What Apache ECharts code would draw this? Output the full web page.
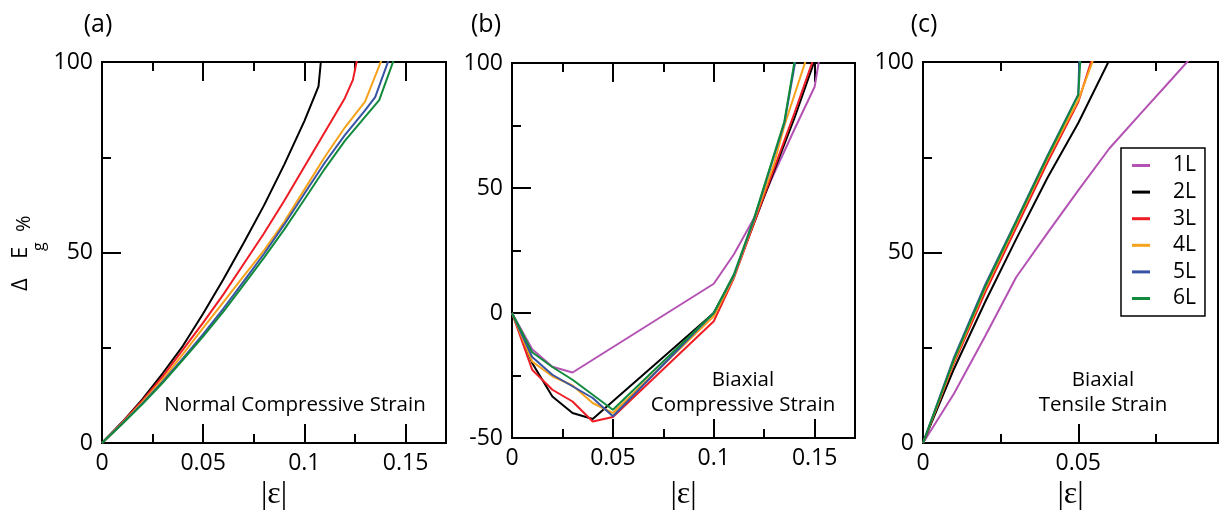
<!DOCTYPE html>
<html lang="en">
<head>
<meta charset="UTF-8">
<title>band gap vs strain</title>
<script src="https://cdn.jsdelivr.net/npm/echarts@6/dist/echarts.min.js"></script>
<style>html,body{margin:0;padding:0;background:#fff;}</style>
</head>
<body>
<div id="chart" style="width:1224px;height:514px"></div>
<script>
var FONT = 'Open Sans';
var layers = ['1L', '2L', '3L', '4L', '5L', '6L'];
var colors = ['#b452b4', '#000000', '#ee1c24', '#f7a21b', '#3953a4', '#118a3c'];

// (a) normal compressive strain, [|eps|, dEg %]
var a2L = [[0,0],[0.01,5.5],[0.02,11.5],[0.03,18.3],[0.04,25.5],[0.05,34],[0.06,43],[0.07,52.5],[0.08,62.3],[0.09,73],[0.1,84.5],[0.107,93.6],[0.1085,102]];
var a3L = [[0,0],[0.01,5.4],[0.02,11.2],[0.03,17.5],[0.04,24.5],[0.05,31.6],[0.06,39],[0.07,47],[0.08,55],[0.09,63.5],[0.1,72.5],[0.11,81.5],[0.12,90.5],[0.124,95.3],[0.1262,101]];
var a4L = [[0,0],[0.01,5.2],[0.02,10.7],[0.03,16.7],[0.04,23.3],[0.05,30.2],[0.06,37],[0.07,43.8],[0.08,50.5],[0.09,58],[0.1,66.5],[0.11,75],[0.12,82.8],[0.13,89.6],[0.1385,101]];
var a5L = [[0,0],[0.01,5.1],[0.02,10.4],[0.03,16.1],[0.04,22.2],[0.05,28.6],[0.06,35.3],[0.07,42.4],[0.08,49.6],[0.09,57.3],[0.1,65.4],[0.11,73.5],[0.12,80.8],[0.13,87.3],[0.135,90.8],[0.142,101]];
var a6L = [[0,0],[0.01,5],[0.02,10.2],[0.03,15.8],[0.04,21.8],[0.05,28],[0.06,34.5],[0.07,41.5],[0.08,48.6],[0.09,56],[0.1,63.9],[0.11,71.9],[0.12,79.3],[0.13,85.6],[0.137,90],[0.1445,101]];

// (b) biaxial compressive strain
var b1L = [[0,0],[0.01,-14.5],[0.02,-21.5],[0.03,-23.8],[0.1,11.7],[0.11,23.5],[0.12,38],[0.13,56],[0.14,73.5],[0.15,90.5],[0.153,105]];
var b2L = [[0,0],[0.01,-20],[0.02,-33.4],[0.03,-40],[0.04,-42.4],[0.05,-35.3],[0.1,0],[0.11,15],[0.12,36],[0.13,57],[0.14,78],[0.15,101]];
var b3L = [[0,0],[0.01,-22.7],[0.02,-30.7],[0.03,-35.4],[0.04,-43.4],[0.05,-41.6],[0.1,-3.3],[0.11,14],[0.12,36],[0.13,58],[0.14,80],[0.15,103]];
var b4L = [[0,0],[0.01,-19.4],[0.02,-25.3],[0.03,-29],[0.04,-36],[0.05,-40],[0.1,-1.3],[0.11,14.5],[0.12,37],[0.13,60],[0.135,75],[0.146,102]];
var b5L = [[0,0],[0.01,-17.6],[0.02,-24.7],[0.03,-29.3],[0.04,-34],[0.05,-41.3],[0.1,0],[0.11,15],[0.12,37.5],[0.135,76],[0.1405,101]];
var b6L = [[0,0],[0.01,-15.7],[0.02,-21.6],[0.03,-26.7],[0.04,-32.7],[0.05,-38.7],[0.1,0],[0.11,15.5],[0.12,38],[0.135,76.6],[0.14,100.5]];

// (c) biaxial tensile strain
var c1L = [[0,0],[0.01,13],[0.02,28],[0.03,43.5],[0.04,55],[0.05,66.3],[0.06,77.3],[0.07,86.4],[0.08,95.4],[0.09,104.5]];
var c2L = [[0,0],[0.01,19.5],[0.02,37],[0.03,53.5],[0.04,69.5],[0.05,84],[0.06,100.5]];
var c3L = [[0,0],[0.01,21],[0.02,39.5],[0.03,56.5],[0.04,73.5],[0.05,89.5],[0.0545,101]];
var c4L = [[0,0],[0.01,21.5],[0.02,40.5],[0.03,57.5],[0.04,74.5],[0.05,90],[0.055,101]];
var c5L = [[0,0],[0.01,22.5],[0.02,41.5],[0.03,58.3],[0.04,75.3],[0.05,91.5],[0.0505,105]];
var c6L = [[0,0],[0.01,22],[0.02,41],[0.03,58],[0.04,75],[0.05,91.3],[0.051,105]];

var panelTitles = ['(a)', '(b)', '(c)'];
var panelNotes = [['Normal Compressive Strain'], ['Biaxial', 'Compressive Strain'], ['Biaxial', 'Tensile Strain']];

var grids = [
    {left: 102, top: 62, width: 344, height: 381},
    {left: 512, top: 63, width: 343, height: 375},
    {left: 923, top: 62, width: 295, height: 381}
];
var xMax = [0.17, 0.17, 0.095];
var yMin = [0, -50, 0];
var panelData = [
    [['2L', a2L], ['3L', a3L], ['4L', a4L], ['5L', a5L], ['6L', a6L]],
    [['1L', b1L], ['2L', b2L], ['3L', b3L], ['4L', b4L], ['5L', b5L], ['6L', b6L]],
    [['1L', c1L], ['2L', c2L], ['3L', c3L], ['4L', c4L], ['5L', c5L], ['6L', c6L]]
];

var black = {color: '#000', width: 2};
var xAxes = [], yAxes = [], series = [], graphics = [];

function txt(x, y, s, size, opts) {
    var el = {type: 'text', x: x, y: y,
        style: {text: s, font: size + 'px "' + FONT + '"', fill: '#000', textAlign: 'center', textVerticalAlign: 'middle'}};
    if (opts) {
        for (var k in opts) {
            if (k === 'rotation') el.rotation = opts[k]; else el.style[k] = opts[k];
        }
    }
    return el;
}

for (var p = 0; p < 3; p++) {
    grids[p].show = true;
    grids[p].borderColor = '#000';
    grids[p].borderWidth = 2;
    ['bottom', 'top'].forEach(function (pos) {
        // major ticks
        xAxes.push({
            gridIndex: p, type: 'value', position: pos, min: 0, max: xMax[p], interval: 0.05,
            axisLine: {onZero: false, lineStyle: black},
            axisTick: {inside: true, length: 19, lineStyle: black},
            axisLabel: {show: pos === 'bottom', showMaxLabel: false, margin: 9, color: '#000', fontSize: 23, fontFamily: FONT},
            splitLine: {show: false}
        });
        // minor ticks
        xAxes.push({
            gridIndex: p, type: 'value', position: pos, min: 0, max: xMax[p], interval: 0.025,
            axisLine: {show: false, onZero: false},
            axisTick: {inside: true, length: 9, lineStyle: black},
            axisLabel: {show: false},
            splitLine: {show: false}
        });
    });
    yAxes.push({
        gridIndex: p, type: 'value', min: yMin[p], max: 100, interval: 50,
        axisLine: {onZero: false, lineStyle: black},
        axisTick: {inside: true, length: 19, lineStyle: black},
        minorTick: {show: true, splitNumber: 2, length: 9, lineStyle: black},
        axisLabel: {margin: 9, color: '#000', fontSize: 23, fontFamily: FONT},
        splitLine: {show: false},
        minorSplitLine: {show: false}
    });

    panelData[p].forEach(function (s) {
        var c = colors[layers.indexOf(s[0])];
        series.push({
            name: s[0], type: 'line', xAxisIndex: p * 4, yAxisIndex: p,
            data: s[1], showSymbol: false, symbol: 'none', clip: true,
            color: c, lineStyle: {color: c, width: 2}
        });
    });

    var cx = grids[p].left + grids[p].width / 2;
    graphics.push(txt([98, 486, 924][p], 25, panelTitles[p], 25));
    graphics.push({type: 'text', x: cx, y: 495,
        style: {text: '|ε|', font: '32px "Liberation Serif"', fill: '#000', textAlign: 'center', textVerticalAlign: 'middle'}});
    var notes = panelNotes[p];
    var noteX = [295, 743, 1103][p];
    for (var k = 0; k < notes.length; k++) {
        graphics.push(txt(noteX, 405 - (notes.length - 1 - k) * 25, notes[k], 20.5));
    }
}

// y axis title: Delta E_g %, read bottom to top
var rot = {rotation: Math.PI / 2, textAlign: 'left'};
graphics.push(txt(21, 291, 'Δ', 22, rot));
graphics.push(txt(21, 259, 'E', 22, rot));
graphics.push(txt(39, 251, 'g', 16, rot));
graphics.push(txt(24, 232, '%', 20, rot));

var chart = echarts.init(document.getElementById('chart'));
chart.setOption({
    animation: false,
    backgroundColor: '#fff',
    grid: grids,
    xAxis: xAxes,
    yAxis: yAxes,
    legend: {
        data: layers, orient: 'vertical', left: 1121, top: 148,
        icon: 'rect', itemWidth: 18, itemHeight: 3, itemGap: 5.6,
        padding: [7, 9, 7, 11], borderColor: '#000', borderWidth: 1.5,
        selectedMode: false,
        formatter: function (name) { return '{p|}' + name; },
        textStyle: {fontSize: 21, lineHeight: 20, fontFamily: FONT, color: '#000',
            rich: {p: {width: 18}}}
    },
    series: series,
    graphic: graphics
});
</script>
</body>
</html>
